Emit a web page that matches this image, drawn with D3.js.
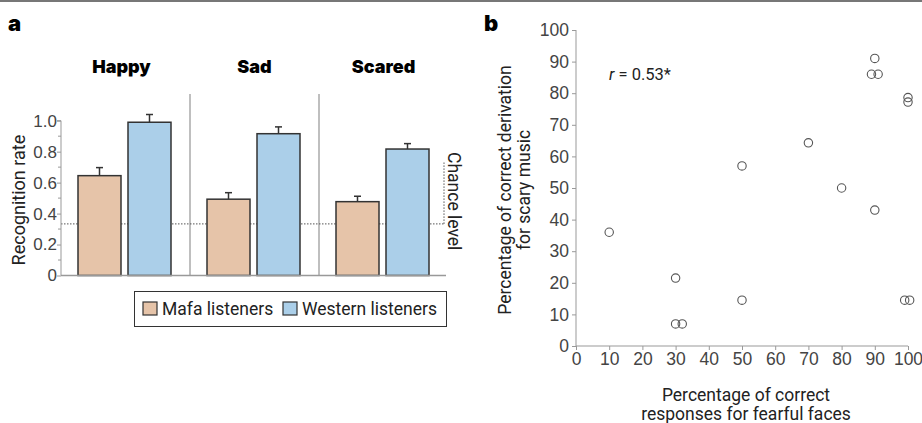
<!DOCTYPE html>
<html>
<head>
<meta charset="utf-8">
<script src="https://cdn.jsdelivr.net/npm/d3@7"></script>
<style>
  body { margin: 0; background: #fff; }
  svg { display: block; font-family: Roboto, "Open Sans", sans-serif; }
  .tick text { fill: #444; font-weight: 300; }
</style>
</head>
<body>
<div id="chart"></div>
<script>
// panel a data
const emotions = ["Happy", "Sad", "Scared"];
const groups = ["Mafa listeners", "Western listeners"];
const mafaRates = [0.645, 0.493, 0.477];
const mafaErr = [0.052, 0.042, 0.035];
const westernRates = [0.99, 0.916, 0.817];
const westernErr = [0.05, 0.044, 0.035];
const chanceLevel = 1 / 3;
const rateTicks = [0, 0.2, 0.4, 0.6, 0.8, 1.0];

// panel b data
const fearfulFaces = [10, 30, 30, 32, 50, 50, 70, 80, 90, 89, 91, 90, 100, 100, 99, 100.5];
const scaryMusic = [36, 21.5, 7, 7, 14.5, 57, 64.3, 50, 43, 86, 86, 91, 78.6, 77.2, 14.5, 14.5];
const pctTicks = [0, 10, 20, 30, 40, 50, 60, 70, 80, 90, 100];

const W = 922, H = 423;
const colors = { "Mafa listeners": "#e6c4a9", "Western listeners": "#abcfe9" };

const svg = d3.select("#chart").append("svg")
  .attr("width", W).attr("height", H);

// top rule
svg.append("rect").attr("x", 0).attr("y", 0).attr("width", W).attr("height", 2).attr("fill", "#777");

// ---------- panel a ----------
svg.append("text").attr("x", 8).attr("y", 31).text("a")
  .style("font-size", "22px").style("font-weight", "900").style("font-family", "Inter, Roboto, sans-serif");

const a = { left: 61, right: 446, top: 120.7, bottom: 275.5 };
const xa = d3.scaleBand().domain(emotions).range([a.left, a.right + 2]).paddingInner(0).paddingOuter(0);
const xg = d3.scaleBand().domain(groups).range([17, 110]).paddingInner(0.14);
const ya = d3.scaleLinear().domain([0, 1]).range([a.bottom, a.top]);

const ga = svg.append("g");

// separators
emotions.slice(1).forEach(e => {
  ga.append("line")
    .attr("x1", xa(e)).attr("x2", xa(e))
    .attr("y1", 94).attr("y2", a.bottom)
    .attr("stroke", "#aaa").attr("stroke-width", 1.5);
});

// chance level line
ga.append("line")
  .attr("x1", a.left).attr("x2", a.right - 2)
  .attr("y1", ya(chanceLevel)).attr("y2", ya(chanceLevel))
  .attr("stroke", "#555").attr("stroke-width", 1).attr("stroke-dasharray", "1.5,1.5");
ga.append("line")
  .attr("x1", a.right - 2).attr("x2", a.right - 2)
  .attr("y1", ya(chanceLevel)).attr("y2", ya(0.73))
  .attr("stroke", "#555").attr("stroke-width", 1).attr("stroke-dasharray", "1.5,1.5");
ga.append("text")
  .attr("transform", `translate(${a.right + 2},${ya(0.48)}) rotate(90)`)
  .attr("text-anchor", "middle")
  .style("font-size", "17.5px").style("fill", "#222")
  .text("Chance level");

// bars
const barData = [];
emotions.forEach((e, i) => {
  barData.push({ e, g: groups[0], v: mafaRates[i], err: mafaErr[i] });
  barData.push({ e, g: groups[1], v: westernRates[i], err: westernErr[i] });
});

const bars = ga.selectAll(".bar").data(barData).enter().append("g");
bars.append("line")
  .attr("x1", d => xa(d.e) + xg(d.g) + xg.bandwidth() / 2)
  .attr("x2", d => xa(d.e) + xg(d.g) + xg.bandwidth() / 2)
  .attr("y1", d => ya(d.v)).attr("y2", d => ya(d.v + d.err))
  .attr("stroke", "#333").attr("stroke-width", 1.5);
bars.append("line")
  .attr("x1", d => xa(d.e) + xg(d.g) + xg.bandwidth() / 2 - 3.5)
  .attr("x2", d => xa(d.e) + xg(d.g) + xg.bandwidth() / 2 + 3.5)
  .attr("y1", d => ya(d.v + d.err)).attr("y2", d => ya(d.v + d.err))
  .attr("stroke", "#333").attr("stroke-width", 1.5);
bars.append("rect")
  .attr("x", d => xa(d.e) + xg(d.g))
  .attr("y", d => ya(d.v))
  .attr("width", xg.bandwidth())
  .attr("height", d => ya(0) - ya(d.v))
  .attr("fill", d => colors[d.g])
  .attr("stroke", "#333").attr("stroke-width", 1.5);

// baseline
ga.append("line")
  .attr("x1", a.left).attr("x2", a.right)
  .attr("y1", a.bottom).attr("y2", a.bottom)
  .attr("stroke", "#999").attr("stroke-width", 1.5);

// y axis
const yAxisA = ga.append("g")
  .attr("transform", `translate(${a.left},0)`)
  .call(d3.axisLeft(ya).tickValues(rateTicks).tickSize(4)
    .tickFormat(d => d === 0 ? "0" : d3.format(".1f")(d)));
yAxisA.select(".domain").attr("stroke", "#999").attr("d", `M-4,${ya(1)}H0V${a.bottom}`);
yAxisA.selectAll(".tick line").attr("stroke", "#999");
yAxisA.selectAll(".tick text").attr("x", -4).style("font-size", "17px");
ga.append("g").selectAll("line")
  .data(rateTicks.slice(0, -1).map(t => t + 0.1))
  .enter().append("line")
  .attr("x1", a.left - 3).attr("x2", a.left)
  .attr("y1", d => ya(d)).attr("y2", d => ya(d))
  .attr("stroke", "#999");

ga.append("text")
  .attr("transform", `translate(25,${(a.top + a.bottom) / 2 + 2}) rotate(-90)`)
  .attr("text-anchor", "middle")
  .style("font-size", "18px").style("fill", "#222")
  .text("Recognition rate");

// titles
ga.selectAll(".title").data(emotions).enter().append("text")
  .attr("x", d => xa(d) + xa.bandwidth() / 2 - (d === "Happy" ? 4 : 0))
  .attr("y", 73)
  .attr("text-anchor", "middle")
  .style("font-size", "18px").style("font-weight", "900")
  .style("font-family", "Inter, Roboto, sans-serif")
  .text(d => d);

// legend
const lg = ga.append("g");
lg.append("rect").attr("x", 134.5).attr("y", 291.5).attr("width", 312).attr("height", 35)
  .attr("fill", "#fff").attr("stroke", "#333").attr("stroke-width", 1);
const legendX = [143, 283];
groups.forEach((g, i) => {
  lg.append("rect").attr("x", legendX[i]).attr("y", 302).attr("width", 14).attr("height", 13)
    .attr("fill", colors[g]).attr("stroke", "#333").attr("stroke-width", 1.2);
  lg.append("text").attr("x", legendX[i] + 19).attr("y", 315)
    .style("font-size", "17.5px").style("fill", "#222").text(g);
});

// ---------- panel b ----------
svg.append("text").attr("x", 484).attr("y", 31).text("b")
  .style("font-size", "22px").style("font-weight", "900").style("font-family", "Inter, Roboto, sans-serif");

const b = { left: 576, right: 908, top: 30, bottom: 346 };
const xb = d3.scaleLinear().domain([0, 100]).range([b.left, b.right]);
const yb = d3.scaleLinear().domain([0, 100]).range([b.bottom, b.top]);
const gb = svg.append("g");

const xAxisB = gb.append("g").attr("transform", `translate(0,${b.bottom})`)
  .call(d3.axisBottom(xb).tickValues(pctTicks).tickSize(4).tickPadding(3));
const yAxisB = gb.append("g").attr("transform", `translate(${b.left},0)`)
  .call(d3.axisLeft(yb).tickValues(pctTicks).tickSize(4).tickPadding(3));
[xAxisB, yAxisB].forEach(ax => {
  ax.select(".domain").attr("stroke", "#999");
  ax.selectAll(".tick line").attr("stroke", "#999");
  ax.selectAll(".tick text").style("font-size", "17.5px");
});
xAxisB.select(".domain").attr("d", `M${b.left},0H${b.right}`);
yAxisB.select(".domain").attr("d", `M0,${b.bottom}V${b.top}`);

gb.selectAll(".pt").data(fearfulFaces).enter().append("circle")
  .attr("cx", d => xb(d))
  .attr("cy", (d, i) => yb(scaryMusic[i]))
  .attr("r", 4.2)
  .attr("fill", "none").attr("stroke", "#555").attr("stroke-width", 1.1);

const rt = gb.append("text").attr("x", 609).attr("y", 80)
  .style("font-size", "16.5px").style("fill", "#222");
rt.append("tspan").style("font-style", "italic").text("r");
rt.append("tspan").text(" = 0.53*");

gb.append("text")
  .attr("transform", `translate(511,${(b.top + b.bottom) / 2 + 2}) rotate(-90)`)
  .attr("text-anchor", "middle")
  .style("font-size", "17.5px").style("fill", "#222")
  .selectAll("tspan").data(["Percentage of correct derivation", "for scary music"])
  .enter().append("tspan")
  .attr("x", 0).attr("dy", (d, i) => i === 0 ? 0 : 19)
  .text(d => d);

gb.append("text")
  .attr("x", 746).attr("y", 401)
  .attr("text-anchor", "middle")
  .style("font-size", "17.5px").style("fill", "#222")
  .selectAll("tspan").data(["Percentage of correct", "responses for fearful faces"])
  .enter().append("tspan")
  .attr("x", 746).attr("dy", (d, i) => i === 0 ? 0 : 19)
  .text(d => d);
</script>
</body>
</html>
